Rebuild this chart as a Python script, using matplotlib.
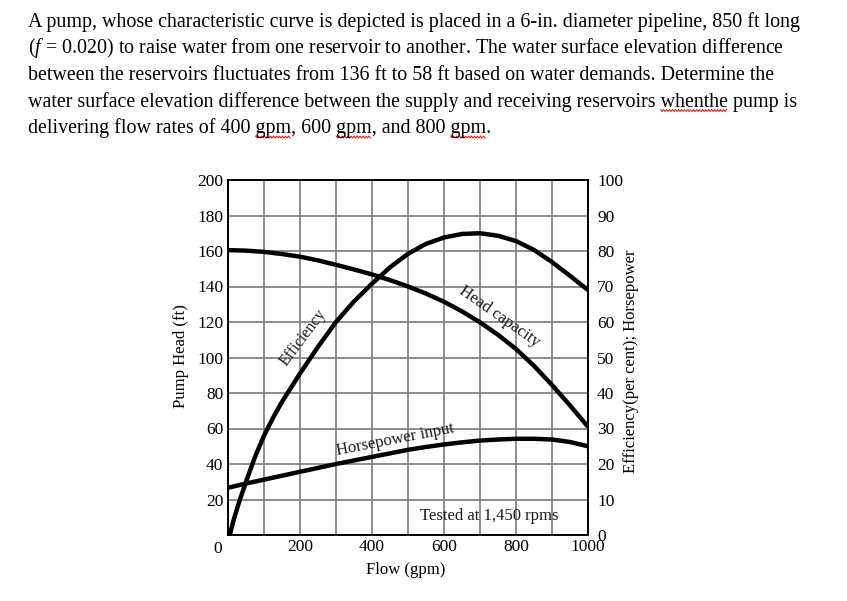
import numpy as np
import matplotlib.pyplot as plt
from matplotlib.lines import Line2D
from matplotlib.transforms import ScaledTranslation

plt.rcParams['font.family'] = 'Liberation Serif'
plt.rcParams['mathtext.fontset'] = 'custom'
plt.rcParams['mathtext.rm'] = 'Liberation Serif'
plt.rcParams['mathtext.it'] = 'Liberation Serif:italic'

vazao = [0, 50, 100, 150, 200, 250, 300, 350, 400, 450, 500,
         550, 600, 650, 700, 750, 800, 850, 900, 950, 1000]
altura = [160.5, 160.2, 159.5, 158.3, 156.8, 154.7, 152.2, 149.6, 146.8, 143.6, 140,
          136, 131.4, 126, 119.8, 112.8, 104.8, 95.3, 84.5, 73, 61]
potencia = [13.3, 14.5, 15.6, 16.7, 17.8, 18.9, 20, 21, 22, 23, 24,
            24.8, 25.5, 26.1, 26.6, 26.9, 27.1, 27.1, 26.9, 26.2, 25]

vazao_ef = [5, 15, 30, 50, 75, 100, 125, 150, 175, 200, 250, 300, 350, 400, 450, 500,
            550, 600, 650, 700, 750, 800, 850, 900, 950, 1000]
eficiencia = [0, 4, 9, 15, 22, 28, 33, 37.5, 41.5, 45.5, 53, 60, 65.8, 70.8, 75.4, 79.2,
              82, 83.8, 84.8, 85, 84.3, 82.8, 80.3, 76.9, 73, 69]

xticks = list(range(0, 1001, 100))
xlabels = ['', '', '200', '', '400', '', '600', '', '800', '', '1000']
yticks = list(range(0, 201, 20))
ylabels = [''] + [str(v) for v in yticks[1:]]
y2ticks = list(range(0, 101, 10))

texto = [
    "A pump, whose characteristic curve is depicted is placed in a 6-in. diameter pipeline, 850 ft long",
    "($\\mathit{f}$ = 0.020) to raise water from one reservoir to another. The water surface elevation difference",
    "between the reservoirs fluctuates from 136 ft to 58 ft based on water demands. Determine the",
    "water surface elevation difference between the supply and receiving reservoirs whenthe pump is",
    "delivering flow rates of 400 gpm, 600 gpm, and 800 gpm.",
]

W, H = 847, 601
fs_texto = 14.4
fig = plt.figure(figsize=(W / 100, H / 100), dpi=100)

# enunciado
linhas = []
for i, linha in enumerate(texto):
    y = 1 - (27 + 26.5 * i) / H
    t = fig.text(28 / W, y, linha, fontsize=fs_texto, va='baseline', ha='left', color='black')
    linhas.append((t, y))

# sublinhado ondulado (corretor ortografico)
r = fig.canvas.get_renderer()


def sublinhar(i, linha, palavra, inicio=0):
    pos = linha.index(palavra, inicio)
    y = linhas[i][1]
    tmp = fig.text(28 / W, y, linha[:pos + len(palavra)], fontsize=fs_texto, va='baseline')
    x1 = tmp.get_window_extent(r).x1
    tmp.remove()
    tmp = fig.text(0, y, palavra, fontsize=fs_texto, va='baseline')
    x0 = x1 - tmp.get_window_extent(r).width
    tmp.remove()
    xs = np.arange(x0, x1 + 0.1, 1.5)
    ys = y * H - 4 + np.where(np.arange(len(xs)) % 2 == 0, 1.0, -1.0)
    fig.add_artist(Line2D(xs / W, ys / H, transform=fig.transFigure, color='#e01010', lw=0.7))
    return pos + len(palavra)


sublinhar(3, texto[3], 'whenthe')
p = 0
for k in range(3):
    p = sublinhar(4, texto[4], 'gpm', p)

# grafico
ax = fig.add_axes([228 / W, 1 - 535 / H, 360 / W, 355 / H])
ax2 = ax.twinx()

estilo = dict(color='black', lw=3.2, solid_joinstyle='round', solid_capstyle='butt')
ax.plot(vazao, altura, **estilo)
ax2.plot(vazao_ef, eficiencia, **estilo)
ax2.plot(vazao, potencia, **estilo)

ax.set_xlim(0, 1000)
ax.set_ylim(0, 200)
ax2.set_ylim(0, 100)
ax.set_xticks(xticks)
ax.set_xticklabels(xlabels)
ax.set_yticks(yticks)
ax.set_yticklabels(ylabels)
ax2.set_yticks(y2ticks)
ax.grid(True, color='#858585', lw=1.3)
ax.set_axisbelow(True)
ax.tick_params(axis='x', length=0, labelsize=12.5, pad=3)
ax.tick_params(axis='y', length=0, labelsize=12.5, pad=3.5)
ax2.tick_params(axis='y', length=0, labelsize=12.5, pad=6.5)
for a in (ax, ax2):
    for s in a.spines.values():
        s.set_color('black')
        s.set_linewidth(1.2)

ax.text(0, 0, '0', fontsize=12.5, ha='center', va='center',
        transform=ax.transData + ScaledTranslation(-0.10, -0.14, fig.dpi_scale_trans))

cor = '#1a1a1a'
ax.text(208, 111, 'Efficiency', fontsize=11.5, rotation=53, ha='center', va='center',
        rotation_mode='anchor', color=cor)
ax.text(753, 123, 'Head capacity', fontsize=12, rotation=-35, ha='center', va='center',
        rotation_mode='anchor', color=cor)
ax.text(464, 53.5, 'Horsepower input', fontsize=12, rotation=11, ha='center', va='center',
        rotation_mode='anchor', color=cor)
ax.text(725, 10.7, 'Tested at 1,450 rpms', fontsize=12, ha='center', va='center', color=cor)

fig.text(181 / W, 1 - 356 / H, 'Pump Head (ft)', rotation=90, fontsize=12, ha='center', va='center')
fig.text(631 / W, 1 - 361 / H, 'Efficiency(per cent); Horsepower', rotation=90, fontsize=12,
         ha='center', va='center')
fig.text(406 / W, 1 - 570 / H, 'Flow (gpm)', fontsize=12, ha='center', va='center')

fig.savefig('out.png', dpi=100)
